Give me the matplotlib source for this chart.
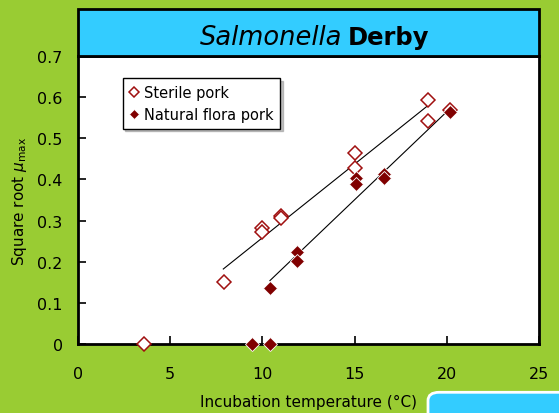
import numpy as np
import matplotlib.pyplot as plt
from matplotlib.patches import Rectangle, FancyBboxPatch

# sqrt(mu_max) against incubation temperature
sterile_temp = [3.6, 7.9, 10.0, 10.0, 11.0, 11.0, 15.0, 15.0, 19.0, 19.0, 20.2]
sterile_rate = [0.0, 0.15, 0.282, 0.272, 0.311, 0.306, 0.463, 0.427, 0.592, 0.541, 0.569]
natural_temp = [9.45, 10.4, 10.4, 11.9, 11.9, 15.1, 15.1, 16.6, 16.6, 20.2]
natural_rate = [0.0, 0.0, 0.137, 0.223, 0.202, 0.403, 0.388, 0.412, 0.403, 0.563]

# Ratkowsky square-root model: sqrt(mu) = b * (T - Tmin)
sterile_b, sterile_tmin = 0.0358, 2.79
natural_b, natural_tmin = 0.0428, 6.81
sterile_range = [7.88, 18.96]
natural_range = [10.41, 20.2]

green = '#99CC33'
cyan = '#33CCFF'
red_open = '#A01010'
red_fill = '#800000'

plt.rcParams['font.family'] = 'DejaVu Sans'
fig = plt.figure(figsize=(5.59, 4.14), dpi=100, facecolor=green)
ax = fig.add_axes([0.1395, 0.1667, 0.8247, 0.6957])
ax.set_facecolor('white')

for rng, b, tmin in [(sterile_range, sterile_b, sterile_tmin),
                     (natural_range, natural_b, natural_tmin)]:
	xs = np.array(rng)
	ax.plot(xs, b * (xs - tmin), color='black', lw=0.8, zorder=2)

ax.plot(sterile_temp, sterile_rate, 'D', ms=7, mfc='white', mec=red_open, mew=1.1,
	ls='none', label='Sterile pork', clip_on=False, zorder=4)
ax.plot(natural_temp, natural_rate, 'D', ms=7, mfc=red_fill, mec='white', mew=0.6,
	ls='none', label='Natural flora pork', clip_on=False, zorder=5)

ax.set_xlim(0, 25)
ax.set_ylim(0, 0.7)
ax.set_xticks([0, 5, 10, 15, 20, 25])
ax.set_yticks([0, 0.1, 0.2, 0.3, 0.4, 0.5, 0.6, 0.7])
ax.set_yticklabels(['0', '0.1', '0.2', '0.3', '0.4', '0.5', '0.6', '0.7'])
ax.tick_params(direction='in', length=6, width=1.2, labelsize=11.5)
ax.tick_params(axis='x', pad=16)
ax.tick_params(axis='y', pad=11)
for s in ax.spines.values():
	s.set_linewidth(2)
ax.set_xlabel('Incubation temperature (°C)', fontsize=11, labelpad=9)
ax.set_ylabel(r'Square root $\mu_{\rm max}$', fontsize=11, labelpad=6)

leg = ax.legend(loc='upper left', bbox_to_anchor=(0.097, 0.923), fontsize=10.5,
	frameon=True, fancybox=False, edgecolor='black',
	shadow={'color': '0.6', 'alpha': 0.6},
	markerscale=0.75, handlelength=0.6, handletextpad=0.4, borderpad=0.45,
	labelspacing=0.5, borderaxespad=0)
leg.get_frame().set_linewidth(1.0)

# title band above the axes
pos = ax.get_position()
band_top = 1 - 10 / 414
fig.patches.append(Rectangle((pos.x0, pos.y1), pos.width, band_top - pos.y1,
	transform=fig.transFigure, facecolor=cyan, edgecolor='black', lw=2, zorder=3))
base_y = 1 - 45 / 414
split_x = 342 / 559
fig.text(split_x, base_y, 'Salmonella', style='italic',
	fontsize=18.5, ha='right', va='baseline', zorder=4)
fig.text(split_x + 0.01, base_y, 'Derby', weight='bold',
	fontsize=17.5, ha='left', va='baseline', zorder=4)

# corner tab
fig.patches.append(FancyBboxPatch((428 / 559, -0.05), 0.4, 0.1,
	boxstyle='round,pad=0,rounding_size=0.02', transform=fig.transFigure,
	facecolor=cyan, edgecolor='white', lw=2))

fig.savefig('out.png', dpi=100, facecolor=green)
